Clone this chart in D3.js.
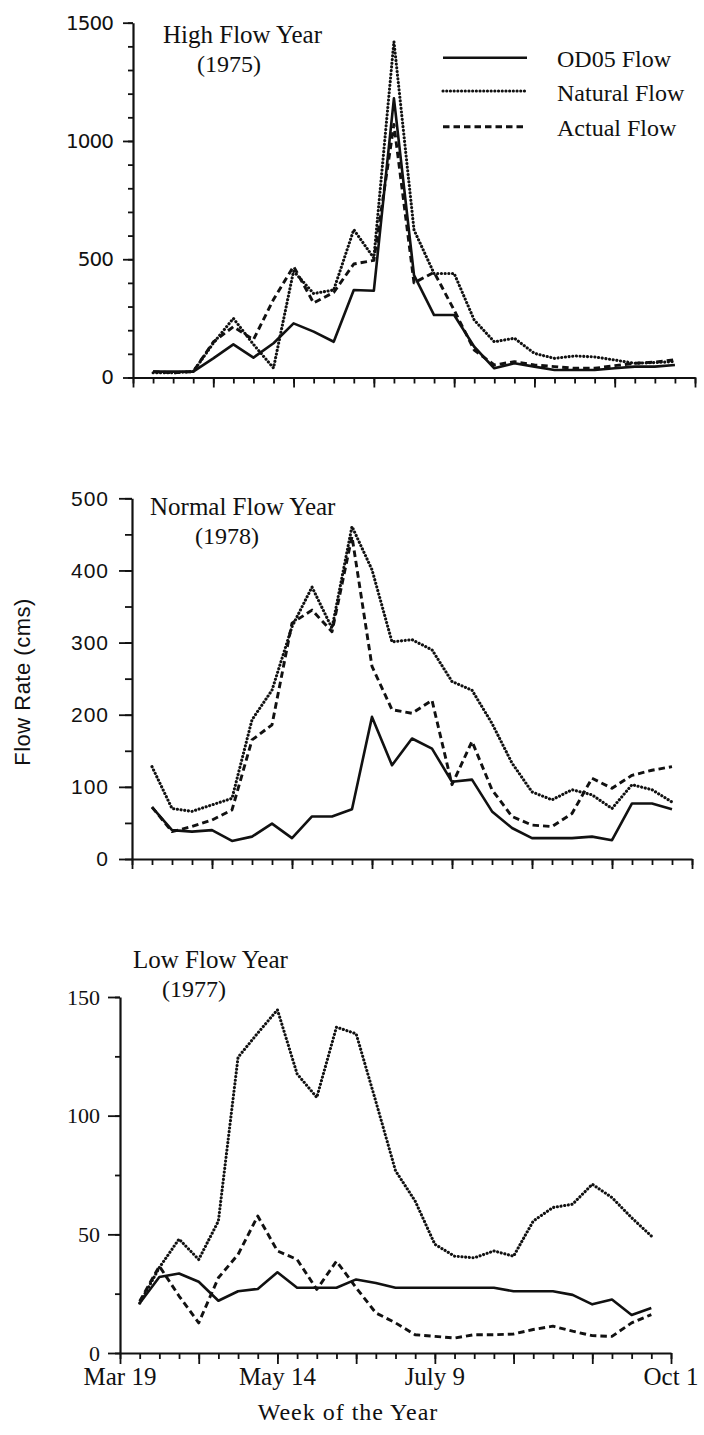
<!DOCTYPE html>
<html>
<head>
<meta charset="utf-8">
<script src="https://cdn.jsdelivr.net/npm/d3@7/dist/d3.min.js"></script>
<style>
  html, body { margin: 0; padding: 0; background: #fff; }
  svg { display: block; }
</style>
</head>
<body>
<svg id="chart" width="704" height="1435"></svg>
<script>
// Weekly flow (cms), weeks counted from Mar 19
const weeks = d3.range(1, 28);
const seriesNames = ["OD05 Flow", "Natural Flow", "Actual Flow"];

// High flow year (1975)
const highOD05    = [25, 25, 25, 81, 140, 84, 145, 229, 194, 151, 370, 367, 1180, 433, 264, 264, 130, 39, 60, 46, 32, 32, 32, 39, 46, 46, 53];
const highNatural = [20, 20, 25, 145, 250, 140, 40, 450, 355, 370, 625, 505, 1420, 624, 440, 440, 243, 151, 166, 102, 81, 91, 87, 74, 60, 63, 67];
const highActual  = [25, 20, 25, 150, 215, 160, 330, 470, 315, 360, 480, 495, 1070, 400, 445, 285, 116, 53, 67, 53, 46, 39, 39, 50, 60, 65, 75];

// Normal flow year (1978)
const normalOD05    = [72, 40, 38, 40, 25, 31, 49, 29, 59, 59, 69, 197, 130, 167, 153, 107, 110, 66, 43, 29, 29, 29, 31, 26, 77, 77, 69];
const normalNatural = [128, 70, 66, 75, 84, 193, 234, 322, 377, 320, 461, 401, 301, 304, 290, 246, 234, 188, 133, 93, 82, 96, 89, 70, 103, 96, 79];
const normalActual  = [72, 38, 45, 54, 68, 165, 186, 327, 345, 315, 447, 267, 207, 202, 220, 103, 163, 96, 59, 47, 45, 63, 112, 98, 116, 123, 128];

// Low flow year (1977)
const lowOD05    = [21, 32, 33.5, 30, 22, 26, 27, 34, 27.5, 27.5, 27.5, 31, 29.5, 27.5, 27.5, 27.5, 27.5, 27.5, 27.5, 26, 26, 26, 24.5, 20.5, 22.5, 16, 19];
const lowNatural = [21, 36, 48, 39.4, 55.6, 124.6, 134.8, 144.6, 117.6, 107.7, 137.3, 134.5, 106, 76.8, 64, 45.8, 40.8, 40.1, 43, 40.8, 55.6, 61.3, 62.7, 71.1, 65.5, 57, 49.3];
const lowActual  = [21.8, 36.6, 24, 12.7, 31.7, 41.5, 57.7, 43, 39.4, 26.8, 38.7, 27.5, 16.9, 12.7, 7.7, 7, 6.3, 7.7, 7.7, 8, 9.9, 11.3, 9.2, 7.3, 7, 12.7, 16.2];

// Axis ticks
const weekTicks = d3.range(0, 29);
const weekMajorTicks = [0, 4, 8, 12, 16, 20, 24, 28];
const dateTickWeeks = [0, 8, 16, 28];
const dateTickLabels = ["Mar 19", "May 14", "July 9", "Oct 1"];
const highTicks = [0, 500, 1000, 1500];
const highMinorTicks = d3.range(0, 1501, 100);
const normalTicks = [0, 100, 200, 300, 400, 500];
const normalMinorTicks = d3.range(0, 501, 50);
const lowTicks = [0, 50, 100, 150];
const lowMinorTicks = d3.range(0, 151, 25);

const svg = d3.select("#chart");
const serif = "'Liberation Serif', 'Times New Roman', serif";

const lineStyles = [
  { dash: null, width: 2.6, cap: "butt" },          // OD05 – solid
  { dash: "0.1 3.6", width: 3.1, cap: "round" },     // Natural – dotted
  { dash: "6.5 4", width: 2.9, cap: "butt" }         // Actual – dashed
];

function drawPanel(p) {
  const g = svg.append("g");
  const x = d3.scaleLinear().domain([0, 28]).range([p.left, p.right]);
  const y = d3.scaleLinear().domain([0, p.yMax]).range([p.bottom, p.top]);

  // y axis: minor ticks, then major ticks with labels
  g.append("g")
    .attr("transform", `translate(${p.left},0)`)
    .call(d3.axisLeft(y).tickValues(p.yMinor).tickSize(p.yMinorLen).tickFormat(""))
    .call(a => a.select(".domain").remove());
  const ya = g.append("g")
    .attr("transform", `translate(${p.left},0)`)
    .call(d3.axisLeft(y).tickValues(p.yTicks).tickSize(p.yMajorLen).tickSizeOuter(0)
      .tickPadding(p.yPad).tickFormat(d3.format("d")));
  ya.select(".domain").attr("stroke-width", 2.2);
  ya.selectAll(".tick text")
    .attr("font-family", p.yFont).attr("font-size", p.yFontSize)
    .attr("letter-spacing", p.yLetter || 0).attr("fill", "#111");

  // x axis: weekly ticks, longer every four weeks
  g.append("g")
    .attr("transform", `translate(0,${p.bottom})`)
    .call(d3.axisBottom(x).tickValues(weekTicks).tickSize(p.xMinorLen).tickFormat(""))
    .call(a => a.select(".domain").remove());
  const xa = g.append("g")
    .attr("transform", `translate(0,${p.bottom})`)
    .call(d3.axisBottom(x).tickValues(weekMajorTicks).tickSize(p.xMajorLen).tickSizeOuter(0).tickFormat(""));
  xa.select(".domain").attr("stroke-width", 2.2);
  g.selectAll(".tick line").attr("stroke", "#111").attr("stroke-width", 1.8);
  g.selectAll(".domain").attr("stroke", "#111");

  if (p.dateLabels) {
    g.selectAll("text.date")
      .data(dateTickWeeks)
      .join("text")
      .attr("class", "date")
      .attr("x", d => x(d))
      .attr("y", p.bottom + 32)
      .attr("text-anchor", "middle")
      .attr("font-family", serif).attr("font-size", 25).attr("fill", "#111")
      .text((d, i) => dateTickLabels[i]);
  }

  // series
  const line = d3.line().x((d, i) => x(weeks[i])).y(d => y(d));
  p.series.forEach((vals, i) => {
    const s = lineStyles[i];
    g.append("path")
      .datum(vals)
      .attr("d", line)
      .attr("fill", "none")
      .attr("stroke", "#111")
      .attr("stroke-width", s.width)
      .attr("stroke-linecap", s.cap)
      .attr("stroke-linejoin", "round")
      .attr("stroke-dasharray", s.dash);
  });

  // title
  g.append("text").attr("x", p.titleX).attr("y", p.titleY)
    .attr("font-family", serif).attr("font-size", 25).attr("fill", "#111").text(p.title);
  g.append("text").attr("x", p.yearX).attr("y", p.titleY + 29)
    .attr("font-family", serif).attr("font-size", 24).attr("fill", "#111").text(p.year);
}

drawPanel({
  left: 133, right: 695, top: 22.7, bottom: 377.5, yMax: 1500,
  yTicks: highTicks, yMinor: highMinorTicks, yMajorLen: 10, yMinorLen: 5, yPad: 10,
  yFont: "'DejaVu Sans', Verdana, sans-serif", yFontSize: 20, yLetter: -1,
  xMajorLen: 10, xMinorLen: 6,
  series: [highOD05, highNatural, highActual],
  title: "High Flow Year", year: "(1975)", titleX: 163, yearX: 197, titleY: 43
});

drawPanel({
  left: 132, right: 692, top: 498.3, bottom: 859, yMax: 500,
  yTicks: normalTicks, yMinor: normalMinorTicks, yMajorLen: 13, yMinorLen: 7, yPad: 10,
  yFont: "'Liberation Sans', Arial, sans-serif", yFontSize: 21, yLetter: 1,
  xMajorLen: 10, xMinorLen: 6,
  series: [normalOD05, normalNatural, normalActual],
  title: "Normal Flow Year", year: "(1978)", titleX: 150, yearX: 195, titleY: 515
});

drawPanel({
  left: 120, right: 671, top: 997, bottom: 1353, yMax: 150,
  yTicks: lowTicks, yMinor: lowMinorTicks, yMajorLen: 12, yMinorLen: 5, yPad: 8,
  yFont: serif, yFontSize: 22, yLetter: 0,
  xMajorLen: 11, xMinorLen: 6, dateLabels: true,
  series: [lowOD05, lowNatural, lowActual],
  title: "Low Flow Year", year: "(1977)", titleX: 133, yearX: 162, titleY: 968
});

// legend
const legendY = [57.7, 91, 126.7];
const legend = svg.append("g");
seriesNames.forEach((name, i) => {
  const s = lineStyles[i];
  legend.append("line")
    .attr("x1", 443).attr("x2", 527).attr("y1", legendY[i]).attr("y2", legendY[i])
    .attr("stroke", "#111").attr("stroke-width", s.width)
    .attr("stroke-linecap", s.cap).attr("stroke-dasharray", s.dash);
  legend.append("text")
    .attr("x", 557).attr("y", legendY[i] + 9.5)
    .attr("font-family", serif).attr("font-size", 24).attr("fill", "#111")
    .text(name);
});

// axis titles
svg.append("text")
  .attr("transform", "translate(30,682) rotate(-90)")
  .attr("text-anchor", "middle")
  .attr("font-family", "'Liberation Sans', Arial, sans-serif")
  .attr("font-size", 22).attr("letter-spacing", 0.5).attr("fill", "#111")
  .text("Flow Rate (cms)");

svg.append("text")
  .attr("x", 348).attr("y", 1420)
  .attr("text-anchor", "middle")
  .attr("font-family", serif).attr("font-size", 24).attr("letter-spacing", 1)
  .attr("fill", "#111")
  .text("Week of the Year");
</script>
</body>
</html>
